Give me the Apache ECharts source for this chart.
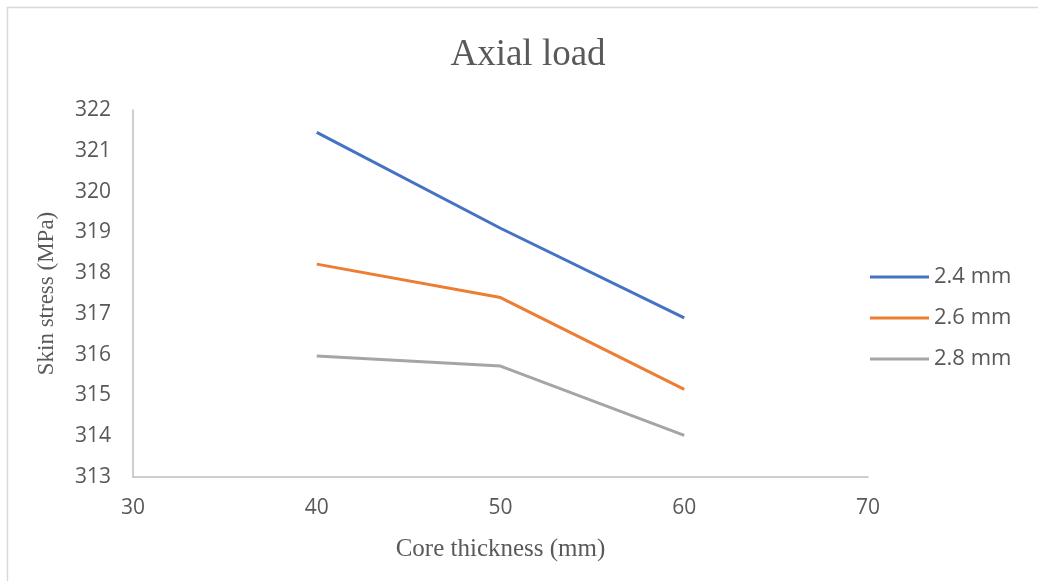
<!DOCTYPE html>
<html>
<head>
<meta charset="utf-8">
<title>Axial load</title>
<script src="https://cdn.jsdelivr.net/npm/echarts@6/dist/echarts.min.js"></script>
<style>
  html, body { margin: 0; padding: 0; background: #ffffff; }
  #chart { width: 1038px; height: 581px; }
</style>
</head>
<body>
<div id="chart"></div>
<script>
// Core thickness (mm) on the x axis
const coreThickness = [40, 50, 60];

// Skin stress (MPa) for each skin thickness
const stress24 = [321.45, 319.1, 316.9];
const stress26 = [318.22, 317.4, 315.15];
const stress28 = [315.97, 315.72, 314.02];

const seriesNames = ['2.4 mm', '2.6 mm', '2.8 mm'];
const seriesColors = ['#4472C4', '#ED7D31', '#A5A5A5'];

const xTicks = { min: 30, max: 70, interval: 10 };
const yTicks = { min: 313, max: 322, interval: 1 };

const pair = (vals) => coreThickness.map((x, i) => [x, vals[i]]);

const sansFont = '"Open Sans", "Noto Sans", sans-serif';
const serifFont = '"Liberation Serif", "DejaVu Serif", serif';
const textGray = '#595959';
const axisGray = '#BFBFBF';

const chart = echarts.init(document.getElementById('chart'), null, { renderer: 'canvas' });

chart.setOption({
  backgroundColor: '#ffffff',
  animation: false,
  title: {
    text: 'Axial load',
    left: 523,
    textAlign: 'center',
    top: 32,
    textStyle: { fontFamily: serifFont, fontSize: 37, fontWeight: 'normal', color: textGray }
  },
  graphic: [{
    type: 'rect',
    shape: { x: 7.5, y: 7.5, width: 1100, height: 700 },
    style: { fill: 'none', stroke: '#D9D9D9', lineWidth: 1.5 },
    silent: true
  }],
  legend: {
    orient: 'vertical',
    left: 865,
    top: 261,
    icon: 'rect',
    itemWidth: 59,
    itemHeight: 3,
    itemGap: 19,
    textStyle: { fontFamily: sansFont, fontSize: 22, color: textGray },
    data: seriesNames
  },
  grid: {
    left: 133,
    right: 170,
    top: 110,
    bottom: 104,
    containLabel: false,
    outerBoundsMode: 'none'
  },
  xAxis: {
    type: 'value',
    min: xTicks.min,
    max: xTicks.max,
    interval: xTicks.interval,
    name: 'Core thickness (mm)',
    nameLocation: 'middle',
    nameGap: 60,
    nameTextStyle: { fontFamily: serifFont, fontSize: 25, color: textGray },
    axisLine: { show: true, onZero: false, lineStyle: { color: axisGray, width: 1.5 } },
    axisTick: { show: false },
    splitLine: { show: false },
    axisLabel: { margin: 21, fontFamily: sansFont, fontSize: 21, color: textGray }
  },
  yAxis: {
    type: 'value',
    min: yTicks.min,
    max: yTicks.max,
    interval: yTicks.interval,
    name: 'Skin stress (MPa)',
    nameLocation: 'middle',
    nameGap: 75,
    nameTextStyle: { fontFamily: serifFont, fontSize: 23, color: textGray },
    axisLine: { show: true, lineStyle: { color: axisGray, width: 1.5 } },
    axisTick: { show: false },
    splitLine: { show: false },
    axisLabel: { margin: 22, fontFamily: sansFont, fontSize: 21, color: textGray }
  },
  series: [stress24, stress26, stress28].map((vals, i) => ({
    name: seriesNames[i],
    type: 'line',
    data: pair(vals),
    symbol: 'none',
    color: seriesColors[i],
    lineStyle: { color: seriesColors[i], width: 3 }
  }))
});
</script>
</body>
</html>
